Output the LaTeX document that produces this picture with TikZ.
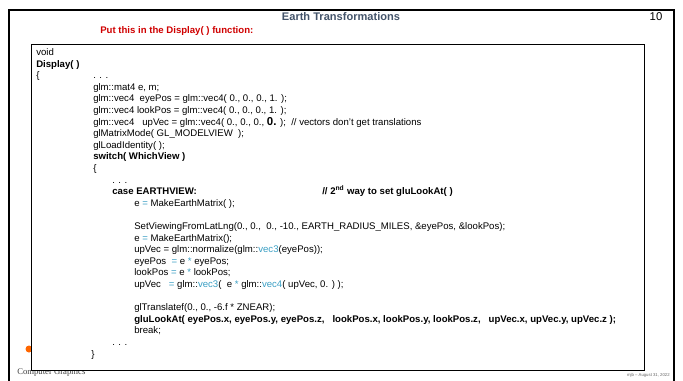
\documentclass[tikz,border=0pt]{standalone}
\usepackage{fontspec}
\setmainfont{Liberation Sans}
\newfontfamily\seriffont{Liberation Serif}
\definecolor{titlecol}{HTML}{44546A}
\definecolor{redcol}{HTML}{D00000}
\definecolor{tealcol}{HTML}{3A9FC4}
\newcommand\tc[1]{\textcolor{tealcol}{#1}}
\newcommand\ly[1]{55.5+11.6*#1}
\begin{document}
\begin{tikzpicture}[x=0.75pt,y=-0.75pt,
  codeline/.style={anchor=base west,inner sep=0pt,font=\fontsize{7.2}{8.6}\selectfont},
  codebold/.style={codeline,font=\fontsize{7.2}{8.6}\selectfont\bfseries}]
\useasboundingbox (0,0) rectangle (683,380);
\fill[white] (0,0) rectangle (683,380);
% outer slide frame
\draw[line width=2pt] (9,10) rectangle (674,390);
\node[font=\fontsize{8.3}{10}\selectfont\bfseries,text=titlecol,inner sep=0pt] (title) at (341,17) {Earth Transformations};
\node[font=\fontsize{8.5}{10}\selectfont,inner sep=0pt] (pagenum) at (656,17) {10};
\node[font=\fontsize{7.2}{8.6}\selectfont\bfseries,text=redcol,anchor=west,inner sep=0pt] (put) at (100,31) {Put this in the Display( ) function:};
% footer items partly hidden behind the box
\fill[orange!80!red] (29,349) circle (3.5);
\node[font=\seriffont\fontsize{6.5}{8}\selectfont,text=black!75,anchor=base west,inner sep=0pt] (cg) at (17,374) {Computer Graphics};
\node[font=\fontsize{3.2}{4}\selectfont,text=black!60,anchor=east,inner sep=0pt] (mjb) at (670,375) {mjb -- August 31, 2022};
% code box
\draw[fill=white,line width=0.7pt] (31,44) rectangle (644,370);
\node[codeline] (l0) at (36,{\ly{0}}) {void};
\node[codebold] (l1) at (36,{\ly{1}}) {Display( )};
\node[codeline] (l2a) at (36,{\ly{2}}) {\{};
\node[codeline] (l2b) at (93,{\ly{2}}) {. . .};
\node[codeline] (l3) at (93,{\ly{3}}) {glm::mat4 e, m;};
\node[codeline] (l4) at (93,{\ly{4}}) {glm::vec4~~eyePos = glm::vec4( 0., 0., 0., 1. );};
\node[codeline] (l5) at (93,{\ly{5}}) {glm::vec4 lookPos = glm::vec4( 0., 0., 0., 1. );};
\node[codeline] (l6) at (93,{\ly{6}}) {glm::vec4~~~upVec = glm::vec4( 0., 0., 0., {\fontsize{8.6}{8.6}\selectfont\bfseries 0.} );~~// vectors don’t get translations};
\node[codeline] (l7) at (93,{\ly{7}}) {glMatrixMode( GL\_MODELVIEW~~);};
\node[codeline] (l8) at (93,{\ly{8}}) {glLoadIdentity( );};
\node[codebold] (l9) at (93,{\ly{9}}) {switch( WhichView )};
\node[codeline] (l10) at (93,{\ly{10}}) {\{};
\node[codeline] (l11) at (112,{\ly{11}}) {. . .};
\node[codebold] (l12) at (112,{\ly{12}}) {case EARTHVIEW:};
\node[codebold] (l12c) at (322,{\ly{12}}) {// 2\textsuperscript{nd} way to set gluLookAt( )};
\node[codeline] (l13) at (134,{\ly{13}}) {e \tc{=} MakeEarthMatrix( );};
\node[codeline] (l15) at (134,{\ly{15}}) {SetViewingFromLatLng(0., 0.,~~0., -10., EARTH\_RADIUS\_MILES, \&eyePos, \&lookPos);};
\node[codeline] (l16) at (134,{\ly{16}}) {e \tc{=} MakeEarthMatrix();};
\node[codeline] (l17) at (134,{\ly{17}}) {upVec = glm::normalize(glm::\tc{vec3}(eyePos));};
\node[codeline] (l18) at (134,{\ly{18}}) {eyePos~~\tc{=} e \tc{*} eyePos;};
\node[codeline] (l19) at (134,{\ly{19}}) {lookPos \tc{=} e \tc{*} lookPos;};
\node[codeline] (l20) at (134,{\ly{20}}) {upVec~~~\tc{=} glm::\tc{vec3}(~~e \tc{*} glm::\tc{vec4}( upVec, 0. )~);};
\node[codeline] (l22) at (134,{\ly{22}}) {glTranslatef(0., 0., -6.f * ZNEAR);};
\node[codebold] (l23) at (134,{\ly{23}}) {gluLookAt( eyePos.x, eyePos.y, eyePos.z,~~~lookPos.x, lookPos.y, lookPos.z,~~~upVec.x, upVec.y, upVec.z );};
\node[codeline] (l24) at (134,{\ly{24}}) {break;};
\node[codeline] (l25) at (112,{\ly{25}}) {. . .};
\node[codeline] (l26) at (91,{\ly{26}}) {\}};
\end{tikzpicture}
\end{document}
